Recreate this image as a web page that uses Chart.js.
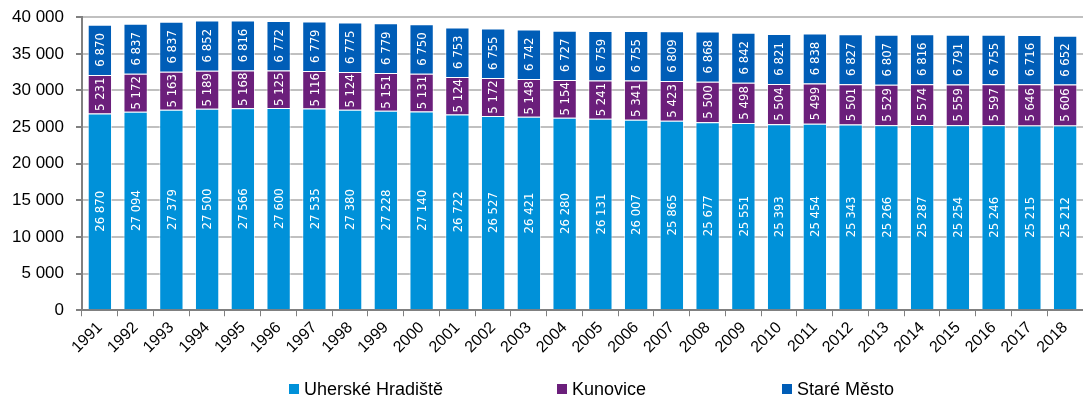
<!DOCTYPE html>
<html>
<head>
<meta charset="utf-8">
<script src="https://cdn.jsdelivr.net/npm/chart.js@4/dist/chart.umd.min.js"></script>
<style>
  body { margin: 0; background: #fff; }
  #wrap { width: 1083px; height: 403px; position: relative; overflow: hidden; }
  #box { position: absolute; left: 0; top: -5px; width: 1083px; height: 408px; }
  #legend { position: absolute; left: 0; top: 379px; width: 1083px; height: 22px;
    font: 18px "Liberation Sans", Arial, sans-serif; color: #000; }
  #legend span { position: absolute; top: 0; white-space: nowrap; }
  #legend i { display: inline-block; width: 10px; height: 10px; margin-right: 5px; vertical-align: 1px; }
</style>
</head>
<body>
<div id="wrap">
  <div id="box"><canvas id="popChart"></canvas></div>
  <div id="legend"></div>
</div>
<script>
var years = ['1991','1992','1993','1994','1995','1996','1997','1998','1999','2000',
  '2001','2002','2003','2004','2005','2006','2007','2008','2009','2010',
  '2011','2012','2013','2014','2015','2016','2017','2018'];

var uherskeHradiste = [26870, 27094, 27379, 27500, 27566, 27600, 27535, 27380, 27228, 27140,
  26722, 26527, 26421, 26280, 26131, 26007, 25865, 25677, 25551, 25393,
  25454, 25343, 25266, 25287, 25254, 25246, 25215, 25212];

var kunovice = [5231, 5172, 5163, 5189, 5168, 5125, 5116, 5124, 5151, 5131,
  5124, 5172, 5148, 5154, 5241, 5341, 5423, 5500, 5498, 5504,
  5499, 5501, 5529, 5574, 5559, 5597, 5646, 5606];

var stareMesto = [6870, 6837, 6837, 6852, 6816, 6772, 6779, 6775, 6779, 6750,
  6753, 6755, 6742, 6727, 6759, 6755, 6809, 6868, 6842, 6821,
  6838, 6827, 6807, 6816, 6791, 6755, 6716, 6652];

var yTicks = [0, 5000, 10000, 15000, 20000, 25000, 30000, 35000, 40000];

var seriesNames = ['Uherské Hradiště', 'Kunovice', 'Staré Město'];
var seriesColors = ['#0091d9', '#6b1f7b', '#005db7'];

function fmt(v) {
  return String(v).replace(/\B(?=(\d{3})+(?!\d))/g, ' ');
}

// white rotated numbers in the middle of each segment
var segLabels = {
  id: 'segLabels',
  afterDatasetsDraw: function(chart) {
    var ctx = chart.ctx;
    ctx.save();
    ctx.fillStyle = '#ffffff';
    ctx.font = '13px "DejaVu Sans Condensed", "DejaVu Sans", sans-serif';
    ctx.textAlign = 'center';
    ctx.textBaseline = 'middle';
    chart.data.datasets.forEach(function(ds, i) {
      var meta = chart.getDatasetMeta(i);
      meta.data.forEach(function(bar, j) {
        var cy = (bar.y + bar.base) / 2;
        ctx.save();
        ctx.translate(bar.x + 1, cy);
        ctx.rotate(-Math.PI / 2);
        ctx.fillText(fmt(ds.data[j]), 0, 0);
        ctx.restore();
      });
    });
    ctx.restore();
  }
};

var ctx = document.getElementById('popChart');
var chart = new Chart(ctx, {
  type: 'bar',
  data: {
    labels: years,
    datasets: [
      { label: seriesNames[0], data: uherskeHradiste, backgroundColor: seriesColors[0],
        borderColor: 'rgba(255,255,255,0.6)', borderWidth: 1 },
      { label: seriesNames[1], data: kunovice, backgroundColor: seriesColors[1],
        borderColor: 'rgba(255,255,255,0.6)', borderWidth: 1 },
      { label: seriesNames[2], data: stareMesto, backgroundColor: seriesColors[2],
        borderColor: 'rgba(255,255,255,0.6)', borderWidth: 1 }
    ]
  },
  options: {
    responsive: true,
    maintainAspectRatio: false,
    animation: false,
    layout: { padding: { top: 0, right: 0, left: 0, bottom: 44 } },
    datasets: { bar: { barPercentage: 0.68, categoryPercentage: 1.0 } },
    plugins: {
      tooltip: { enabled: false },
      legend: { display: false }
    },
    scales: {
      x: {
        stacked: true,
        grid: { display: true, drawOnChartArea: false, drawTicks: true, tickLength: 6, tickColor: '#808080' },
        border: { color: '#808080', width: 2 },
        ticks: {
          color: '#000', minRotation: 45, maxRotation: 45, padding: 2, autoSkip: false,
          font: { family: '"Liberation Sans", Arial, sans-serif', size: 16 }
        }
      },
      y: {
        stacked: true,
        min: yTicks[0],
        max: yTicks[yTicks.length - 1],
        afterBuildTicks: function(axis) {
          axis.ticks = yTicks.map(function(v) { return { value: v }; });
        },
        grid: { color: '#c0c0c0', lineWidth: 2, tickLength: 6, tickColor: '#808080' },
        border: { color: '#808080', width: 2 },
        ticks: {
          color: '#000', padding: 12, autoSkip: false,
          font: { family: '"Liberation Sans", Arial, sans-serif', size: 17 },
          callback: function(v) { return fmt(v); }
        }
      }
    }
  },
  plugins: [segLabels]
});

// legend placed like the original, wide gaps between items
var legendX = [289, 557, 782];
var legendDiv = document.getElementById('legend');
seriesNames.forEach(function(name, i) {
  var s = document.createElement('span');
  s.style.left = legendX[i] + 'px';
  s.innerHTML = '<i style="background:' + seriesColors[i] + '"></i>' + name;
  legendDiv.appendChild(s);
});
</script>
</body>
</html>
